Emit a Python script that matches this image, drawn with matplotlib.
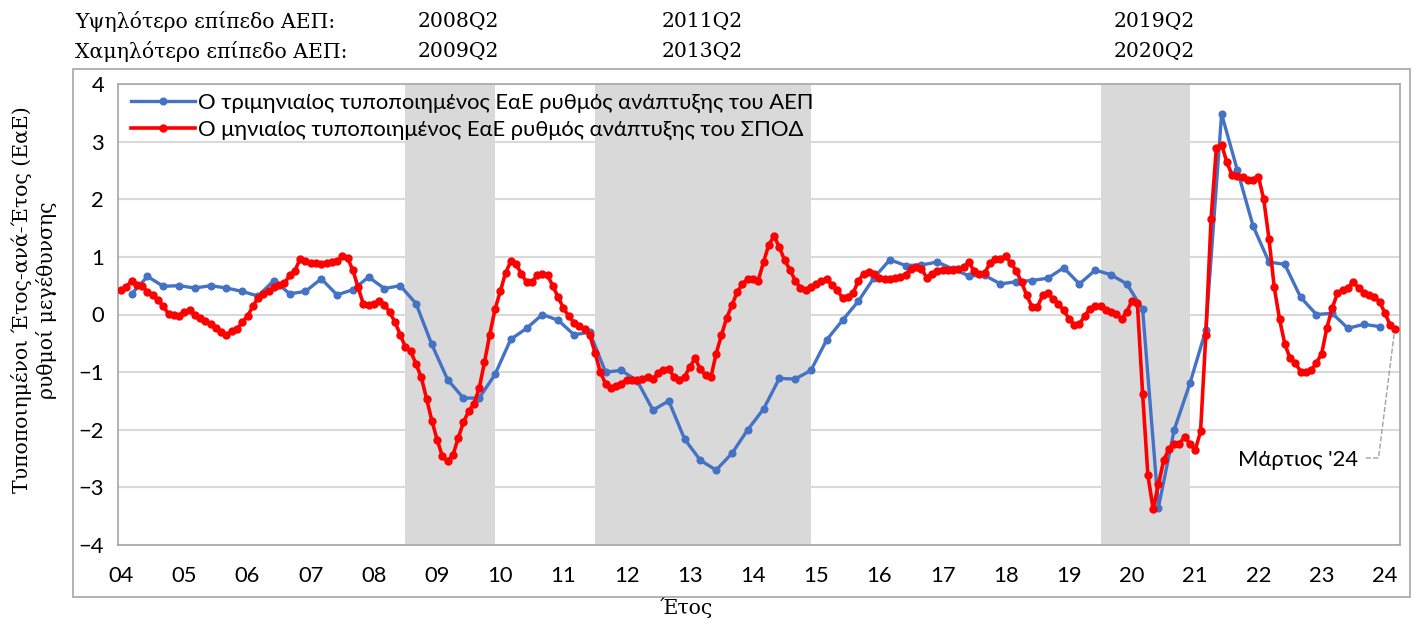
import numpy as np
import pandas as pd
import matplotlib
matplotlib.use('Agg')
import matplotlib.pyplot as plt
from matplotlib.patches import Rectangle


# quarterly standardised YoY GDP growth, 2004Q1 - 2023Q4
gdp_start = '2004-03'
gdp = [0.36, 0.66, 0.49, 0.50, 0.46, 0.50, 0.46, 0.40,
       0.32, 0.59, 0.36, 0.40, 0.62, 0.34, 0.43, 0.65,
       0.45, 0.50, 0.19, -0.52, -1.13, -1.45, -1.45, -1.04,
       -0.43, -0.24, 0.00, -0.10, -0.35, -0.31, -1.00, -0.97,
       -1.15, -1.66, -1.50, -2.16, -2.53, -2.70, -2.41, -2.00,
       -1.64, -1.11, -1.12, -0.97, -0.44, -0.10, 0.23, 0.64,
       0.95, 0.85, 0.86, 0.91, 0.79, 0.67, 0.68, 0.53,
       0.57, 0.59, 0.63, 0.81, 0.53, 0.77, 0.69, 0.53,
       0.09, -3.35, -2.00, -1.19, -0.27, 3.48, 2.50, 1.53,
       0.91, 0.87, 0.30, 0.00, 0.02, -0.24, -0.17, -0.21]

# monthly standardised YoY growth of the composite indicator, 2004-01 - 2024-03
spod_start = '2004-01'
spod = [0.43, 0.48, 0.59, 0.51, 0.49, 0.39, 0.33, 0.25, 0.14, 0.01, 0.00, -0.02,
        0.05, 0.07, 0.00, -0.06, -0.12, -0.16, -0.23, -0.31, -0.36, -0.28, -0.26, -0.13,
        -0.03, 0.14, 0.29, 0.36, 0.40, 0.47, 0.52, 0.54, 0.68, 0.76, 0.97, 0.92,
        0.90, 0.89, 0.87, 0.90, 0.91, 0.92, 1.01, 0.98, 0.77, 0.47, 0.18, 0.17,
        0.19, 0.24, 0.17, 0.04, -0.13, -0.35, -0.57, -0.64, -0.86, -1.09, -1.46, -1.84,
        -2.17, -2.46, -2.55, -2.44, -2.15, -1.87, -1.68, -1.55, -1.28, -0.83, -0.35, 0.09,
        0.40, 0.72, 0.92, 0.87, 0.71, 0.56, 0.56, 0.68, 0.71, 0.68, 0.49, 0.30,
        0.11, -0.03, -0.14, -0.20, -0.25, -0.36, -0.66, -1.00, -1.20, -1.27, -1.24, -1.20,
        -1.13, -1.13, -1.13, -1.12, -1.09, -1.12, -1.02, -0.97, -0.94, -1.09, -1.13, -1.08,
        -0.91, -0.76, -0.95, -1.05, -1.09, -0.68, -0.36, -0.06, 0.16, 0.39, 0.53, 0.61,
        0.61, 0.59, 0.91, 1.21, 1.36, 1.17, 0.94, 0.78, 0.59, 0.46, 0.43, 0.47,
        0.53, 0.58, 0.62, 0.51, 0.43, 0.28, 0.31, 0.37, 0.58, 0.71, 0.74, 0.71,
        0.63, 0.61, 0.61, 0.63, 0.65, 0.69, 0.79, 0.83, 0.79, 0.64, 0.71, 0.76,
        0.78, 0.77, 0.77, 0.79, 0.82, 0.91, 0.75, 0.71, 0.72, 0.89, 0.97, 0.97,
        1.01, 0.89, 0.76, 0.56, 0.33, 0.13, 0.13, 0.33, 0.37, 0.27, 0.19, 0.07,
        -0.07, -0.18, -0.17, -0.02, 0.10, 0.14, 0.15, 0.07, 0.04, 0.01, -0.08, 0.05,
        0.24, 0.20, -1.38, -2.79, -3.38, -2.95, -2.53, -2.33, -2.24, -2.24, -2.12, -2.25,
        -2.35, -2.03, -0.36, 1.66, 2.89, 2.95, 2.64, 2.42, 2.40, 2.39, 2.34, 2.34,
        2.39, 2.00, 1.31, 0.47, -0.08, -0.51, -0.76, -0.84, -0.99, -1.00, -0.97, -0.84,
        -0.68, -0.23, 0.11, 0.37, 0.43, 0.46, 0.57, 0.46, 0.38, 0.34, 0.31, 0.22,
        0.03, -0.18, -0.26]

# shaded periods (start month, end month)
shade_periods = [('2008-07', '2009-12'), ('2011-07', '2014-12'), ('2019-07', '2020-12')]

peak_label = 'Υψηλότερο επίπεδο ΑΕΠ:'
trough_label = 'Χαμηλότερο επίπεδο ΑΕΠ:'
peaks = ['2008Q2', '2011Q2', '2019Q2']
troughs = ['2009Q2', '2013Q2', '2020Q2']

years = list(range(2004, 2025))
year_labels = ['%02d' % (y % 100) for y in years]

gdp_name = 'Ο τριμηνιαίος τυποποιημένος ΕαΕ ρυθμός ανάπτυξης του ΑΕΠ'
spod_name = 'Ο μηνιαίος τυποποιημένος ΕαΕ ρυθμός ανάπτυξης του ΣΠΟΔ'
last_label = "Μάρτιος '24"

BLUE = '#4472C4'
RED = '#FF0000'
SHADE = '#D9D9D9'
SANS = ['Lato', 'DejaVu Sans']
SERIF = ['DejaVu Serif']
FS = 15.8
SERIF_FS = 14.7


def to_decimal(dates):
    return dates.year + (dates.month - 1) / 12.0


def main():
    x_gdp = to_decimal(pd.date_range(gdp_start, periods=len(gdp), freq='3MS'))
    x_spod = to_decimal(pd.date_range(spod_start, periods=len(spod), freq='MS'))

    fig = plt.figure(figsize=(14.13, 6.2), dpi=100)
    ax = fig.add_axes([118 / 1413, 1 - 545 / 620, 1282 / 1413, 461 / 620])

    for s, e in shade_periods:
        x0 = to_decimal(pd.DatetimeIndex([s]))[0]
        x1 = to_decimal(pd.DatetimeIndex([e]))[0]
        ax.axvspan(x0, x1, color=SHADE, lw=0, zorder=1)

    ax.plot(x_gdp, gdp, color=BLUE, lw=2.4, marker='o', ms=4.8,
            label=gdp_name, zorder=3)
    ax.plot(x_spod, spod, color=RED, lw=2.6, marker='o', ms=5.0,
            label=spod_name, zorder=4)

    ax.set_ylim(-4, 4)
    ax.set_xlim(2003.95, 2024.24)
    ax.set_yticks(range(-4, 5))
    ax.set_xticks(years)
    ax.set_xticklabels(year_labels)
    ax.grid(axis='y', color=SHADE, lw=1.5, zorder=0)
    ax.set_axisbelow(True)
    ax.tick_params(length=0, labelsize=FS)
    ax.tick_params(axis='x', pad=15)
    ax.tick_params(axis='y', pad=10)
    for lab in ax.get_xticklabels() + ax.get_yticklabels():
        lab.set_fontfamily(SANS)
    for sp in ax.spines.values():
        sp.set_color('#A6A6A6')
        sp.set_linewidth(1.2)

    ax.legend(loc='upper left', bbox_to_anchor=(0.0, 1.01), frameon=False,
              prop={'family': SANS, 'size': FS}, handlelength=2.9,
              handletextpad=0.15, labelspacing=0.3, borderaxespad=0.2)

    # annotation for the last monthly observation
    lx, ly = x_spod[-1], spod[-1]
    ax.plot([2023.7, 2023.9, lx - 0.02], [-2.49, -2.49, ly - 0.08],
            color='#A0A0A0', lw=1, ls='--', zorder=2)
    ax.text(2023.57, -2.52, last_label, ha='right', va='center',
            fontsize=FS, family=SANS)

    # header lines
    fig.text(75 / 1413, 1 - 22 / 620, peak_label, family=SERIF, fontsize=SERIF_FS, va='center')
    fig.text(75 / 1413, 1 - 52 / 620, trough_label, family=SERIF, fontsize=SERIF_FS, va='center')
    for xp, p, t in zip([418, 662, 1114], peaks, troughs):
        fig.text(xp / 1413, 1 - 22 / 620, p, family=SERIF, fontsize=SERIF_FS, va='center')
        fig.text(xp / 1413, 1 - 52 / 620, t, family=SERIF, fontsize=SERIF_FS, va='center')

    # y label (two lines) and x label
    fig.text(22 / 1413, 1 - 300 / 620, 'Τυποποιημένοι Έτος-ανά-Έτος (ΕαΕ)',
             rotation=90, ha='center', va='center', family=SERIF, fontsize=SERIF_FS)
    fig.text(47 / 1413, 1 - 300 / 620, 'ρυθμοί μεγέθυνσης',
             rotation=90, ha='center', va='center', family=SERIF, fontsize=SERIF_FS)
    fig.text(686 / 1413, 1 - 608 / 620, 'Έτος', ha='center', va='center',
             family=SERIF, fontsize=SERIF_FS)

    # chart area border
    fig.patches.append(Rectangle((73 / 1413, 1 - 597 / 620), 1337 / 1413, 528 / 620,
                                 transform=fig.transFigure, fill=False,
                                 edgecolor='#A6A6A6', lw=1.2))

    fig.savefig('out.png', dpi=100)
    plt.close(fig)


if __name__ == '__main__':
    main()
